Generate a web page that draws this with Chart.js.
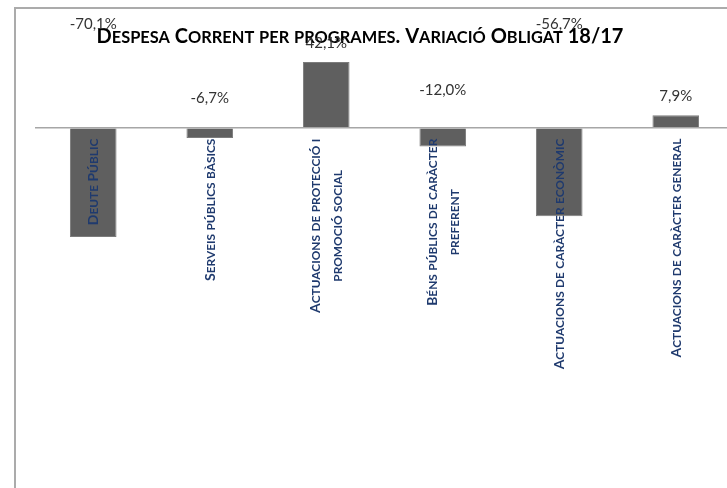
<!DOCTYPE html>
<html>
<head>
<meta charset="utf-8">
<script src="https://cdn.jsdelivr.net/npm/chart.js@4/dist/chart.umd.min.js"></script>
<style>
  html, body { margin: 0; padding: 0; background: #ffffff; overflow: hidden; width: 727px; height: 488px; }
  #frame { position: absolute; left: 14px; top: 7px; width: 738px; height: 498px; border: 2px solid #ababab; background: #fff; }
  #c { display: block; }
</style>
</head>
<body>
<div id="frame"><canvas id="c" width="738" height="498"></canvas></div>
<script>
// ---- data ----
const titleText = "Despesa Corrent per programes. Variació Obligat 18/17";
const categoryLines = [
  ["Deute Públic"],
  ["Serveis públics bàsics"],
  ["Actuacions de protecció i", "promoció social"],
  ["Béns públics de caràcter", "preferent"],
  ["Actuacions de caràcter econòmic"],
  ["Actuacions de caràcter general"]
];
const categories = categoryLines.map(l => l.join(" "));
const variation = [-70.1, -6.7, 42.1, -12.0, -56.7, 7.9];

const FAMILY = "Lato, 'Open Sans', sans-serif";

// draw text in small caps: lowercase letters drawn as smaller capitals
function smallCapsRuns(text) {
  const runs = [];
  for (const ch of text) {
    const small = ch !== ch.toUpperCase();
    const last = runs[runs.length - 1];
    if (last && last.small === small) last.s += ch.toUpperCase();
    else runs.push({ s: ch.toUpperCase(), small });
  }
  return runs;
}
function measureSC(ctx, text, size, ratio) {
  let w = 0;
  for (const r of smallCapsRuns(text)) {
    ctx.font = `bold ${r.small ? size * ratio : size}px ${FAMILY}`;
    w += ctx.measureText(r.s).width;
  }
  return w;
}
function drawSC(ctx, text, cx, midY, size, ratio, color) {
  const total = measureSC(ctx, text, size, ratio);
  let x = cx - total / 2;
  const base = midY + 0.36 * size;
  ctx.fillStyle = color;
  ctx.textAlign = "left";
  ctx.textBaseline = "alphabetic";
  for (const r of smallCapsRuns(text)) {
    ctx.font = `bold ${r.small ? size * ratio : size}px ${FAMILY}`;
    ctx.fillText(r.s, x, base);
    x += ctx.measureText(r.s).width;
  }
}

const annotate = {
  id: "annotate",
  afterDatasetsDraw(chart) {
    const ctx = chart.ctx;
    const xs = chart.scales.x, ys = chart.scales.y;
    const zeroY = ys.getPixelForValue(0);

    // title
    ctx.save();
    drawSC(ctx, titleText, 344, 26.5, 20, 0.82, "#000000");
    ctx.restore();

    // value labels
    ctx.save();
    ctx.font = `15px ${FAMILY}`;
    ctx.fillStyle = "#333333";
    ctx.textAlign = "center";
    ctx.textBaseline = "middle";
    variation.forEach((v, i) => {
      const x = xs.getPixelForValue(i);
      let y = ys.getPixelForValue(Math.abs(v)) - 19;
      if (y < 15) y = 15;
      ctx.fillText(v.toFixed(1).replace(".", ",") + "%", x, y);
    });
    ctx.restore();

    // category labels, rotated
    ctx.save();
    const size = 14, ratio = 0.85, gap = 22;
    categoryLines.forEach((lines, i) => {
      const cx = xs.getPixelForValue(i);
      const widths = lines.map(l => measureSC(ctx, l, size, ratio));
      const W = Math.max(...widths);
      ctx.save();
      ctx.translate(cx, zeroY);
      ctx.rotate(-Math.PI / 2);
      lines.forEach((l, k) => {
        const off = (k - (lines.length - 1) / 2) * gap;
        drawSC(ctx, l, -(11 + W / 2), off, size, ratio, "#1F3A6E");
      });
      ctx.restore();
    });
    ctx.restore();
  }
};

new Chart(document.getElementById("c"), {
  type: "bar",
  data: {
    labels: categories,
    datasets: [{
      data: variation,
      backgroundColor: "#5f5f5f",
      borderColor: "#7c7c7c",
      borderWidth: 1,
      barPercentage: 0.8,
      categoryPercentage: 0.5
    }]
  },
  options: {
    responsive: false,
    animation: false,
    devicePixelRatio: 1,
    layout: { padding: { left: 19, right: 20, top: 25, bottom: 0 } },
    plugins: { legend: { display: false }, title: { display: false }, tooltip: { enabled: false } },
    scales: {
      x: { display: false },
      y: {
        min: -243, max: 60,
        border: { display: false },
        ticks: { display: false, stepSize: 10 },
        grid: {
          drawTicks: false,
          lineWidth: 1.5,
          color: c => (c.tick && c.tick.value === 0) ? "#a6a6a6" : "rgba(0,0,0,0)"
        },
        afterFit: s => { s.width = 0; }
      }
    }
  },
  plugins: [annotate]
});
</script>
</body>
</html>
